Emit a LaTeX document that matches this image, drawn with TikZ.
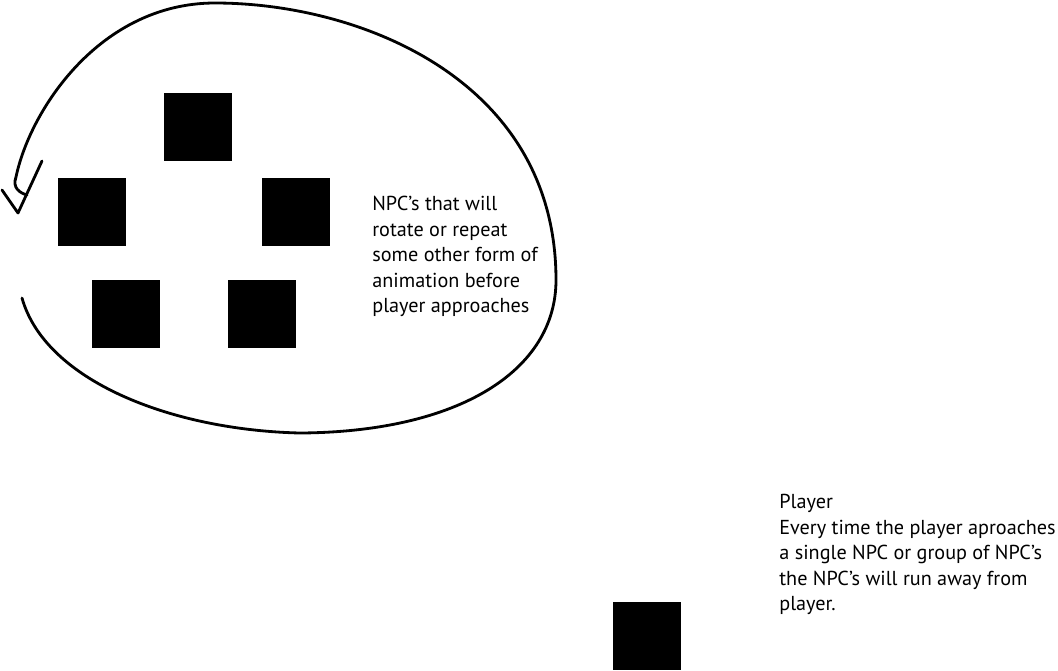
\documentclass[tikz,border=0pt]{standalone}
\usepackage{fontspec}
\setmainfont{PT Sans}

\begin{document}
\begin{tikzpicture}[x=0.02cm,y=-0.02cm]
\tikzset{npc/.style={fill=black,minimum size=1.36cm,inner sep=0pt},
         note/.style={anchor=north west,inner sep=0pt,align=left,font=\fontsize{11.5}{14.5}\selectfont}}
\useasboundingbox (0,0) rectangle (1058,670);
% the group of NPCs
\node (npcTop) at (198,127) [npc] {};
\node (npcLeft) at (92,212) [npc] {};
\node (npcRight) at (296,212) [npc] {};
\node (npcLowLeft) at (126,314) [npc] {};
\node (npcLowRight) at (262,314) [npc] {};
% the loop round them
\draw[line width=1.6pt,line cap=round] (22,298) .. controls (45,380) and (170,430) .. (300,433)
  .. controls (460,432) and (556,370) .. (556,280)
  .. controls (556,80) and (360,3) .. (215,3)
  .. controls (100,3) and (30,110) .. (16,177)
  .. controls (12,188) and (20,193) .. (27,195);
\draw[line width=1.6pt,line cap=round,line join=round] (2,190) -- (18,213) -- (42,161);
\node (npcNote) at (372,196) [note] {NPC’s that will\\rotate or repeat\\some other form of\\animation before\\player approaches};
% the player
\node (player) at (647,636) [npc] {};
\node (playerNote) at (779,494) [note] {Player\\Every time the player aproaches\\a single NPC or group of NPC’s\\the NPC’s will run away from\\player.};
\end{tikzpicture}
\end{document}
